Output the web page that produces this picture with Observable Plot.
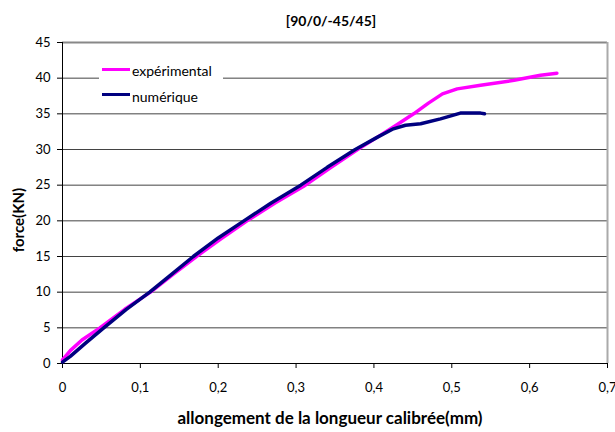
<!DOCTYPE html>
<html>
<head>
<meta charset="utf-8">
<script src="https://cdn.jsdelivr.net/npm/d3@7"></script>
<script src="https://cdn.jsdelivr.net/npm/@observablehq/plot@0.6"></script>
<style>
  body { margin: 0; background: white; }
  #wrap { position: relative; width: 615px; height: 432px; font-family: Lato, "Open Sans", sans-serif; color: #000; }
  #wrap svg { position: absolute; left: 0; top: 0; }
  .t { position: absolute; white-space: nowrap; }
  #title { left: 331px; top: 20px; transform: translate(-50%, -50%); font-weight: bold; font-size: 14px; }
  #xlab { left: 330px; top: 417px; transform: translate(-50%, -50%); font-weight: bold; font-size: 17px; }
  #ylab { left: 18px; top: 220px; transform: translate(-50%, -50%) rotate(-90deg); font-weight: bold; font-size: 15px; }
  #legend { position: absolute; left: 99px; top: 58px; width: 124px; height: 48px; background: white; }
  .lg { position: absolute; left: 3px; width: 28px; height: 3px; }
  .lt { position: absolute; left: 33px; font-size: 14px; transform: translateY(-50%); }
</style>
</head>
<body>
<div id="wrap">
  <div id="title" class="t">[90/0/-45/45]</div>
  <div id="xlab" class="t">allongement de la longueur calibrée(mm)</div>
  <div id="ylab" class="t">force(KN)</div>
  <div id="legend">
    <div class="lg" style="top:10px;background:#FF00FF"></div>
    <div class="lt" style="top:12px">expérimental</div>
    <div class="lg" style="top:35px;background:#000080"></div>
    <div class="lt" style="top:38px">numérique</div>
  </div>
</div>
<script>
// Data
const seriesNames = ["expérimental", "numérique"];
const expX = [0, 0.003, 0.01, 0.025, 0.048, 0.08, 0.113, 0.142, 0.172, 0.204, 0.237, 0.273, 0.312, 0.345, 0.379, 0.404, 0.43, 0.451, 0.47, 0.488, 0.507, 0.537, 0.58, 0.614, 0.635];
const expY = [0.5, 0.9, 1.8, 3.3, 5, 7.6, 10, 12.5, 15, 17.5, 20, 22.5, 25, 27.5, 30, 31.7, 33.5, 35, 36.5, 37.8, 38.5, 39.0, 39.7, 40.4, 40.7];
const numX = [0, 0.01, 0.03, 0.053, 0.082, 0.112, 0.14, 0.168, 0.2, 0.233, 0.268, 0.306, 0.34, 0.376, 0.404, 0.425, 0.4405, 0.46, 0.4855, 0.511, 0.537, 0.542];
const numY = [0.2, 1.0, 2.9, 5, 7.6, 10, 12.5, 15, 17.6, 20, 22.5, 25, 27.5, 30, 31.7, 32.9, 33.4, 33.6, 34.3, 35.1, 35.1, 35.0];
const xTicks = [0, 0.1, 0.2, 0.3, 0.4, 0.5, 0.6, 0.7];
const yTicks = [0, 5, 10, 15, 20, 25, 30, 35, 40, 45];

const exp = expX.map((x, i) => ({x, y: expY[i], s: seriesNames[0]}));
const num = numX.map((x, i) => ({x, y: numY[i], s: seriesNames[1]}));
const fmt = d => String(d).replace(".", ",");

const chart = Plot.plot({
  width: 615, height: 432,
  marginLeft: 62, marginRight: 8, marginTop: 42, marginBottom: 69,
  style: {fontFamily: "Lato, 'Open Sans', sans-serif", fontSize: "13px", color: "#000", background: "transparent"},
  x: {domain: [0, 0.7], label: null},
  y: {domain: [0, 45], label: null},
  marks: [
    Plot.gridY(yTicks.filter(v => v > 0 && v < 45), {stroke: "#222", strokeOpacity: 0.85}),
    Plot.ruleY([45], {stroke: "#888", strokeWidth: 2}),
    Plot.ruleX([0.7], {stroke: "#aaa", strokeWidth: 2}),
    Plot.axisX({ticks: xTicks, tickSize: 5, tickPadding: 14, tickFormat: fmt, label: null}),
    Plot.axisY({ticks: yTicks, tickSize: 5, tickPadding: 7, label: null}),
    Plot.ruleX([0], {stroke: "#000"}),
    Plot.ruleY([0], {stroke: "#000"}),
    Plot.line(exp, {x: "x", y: "y", stroke: "#FF00FF", strokeWidth: 3.5}),
    Plot.line(num, {x: "x", y: "y", stroke: "#000080", strokeWidth: 3.5})
  ]
});
const wrap = document.getElementById("wrap");
wrap.insertBefore(chart, wrap.firstChild);
</script>
</body>
</html>
